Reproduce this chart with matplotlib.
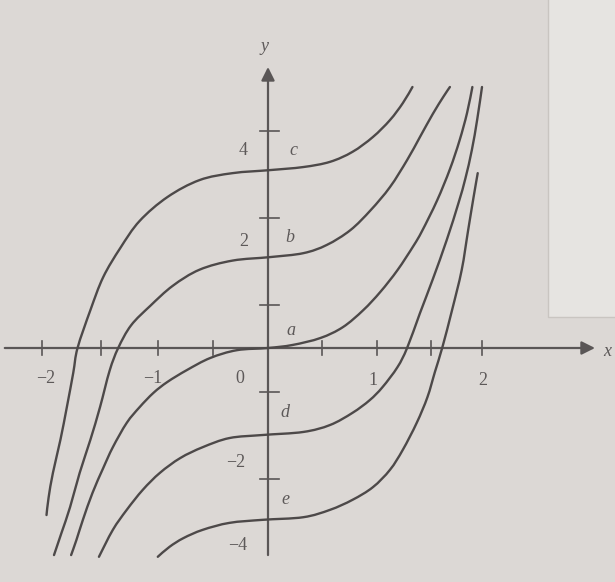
import matplotlib
matplotlib.use("Agg")
import matplotlib.pyplot as plt
from matplotlib.patches import Rectangle, PathPatch
from matplotlib.path import Path

# ---- data (x unit ~107 px, y unit ~43.5 px) ----
c_x = [-2.07, -2.05, -2.01, -1.94, -1.88, -1.82, -1.78, -1.66, -1.54, -1.38, -1.20, -0.94, -0.64, -0.33, 0.02, 0.33, 0.58, 0.79, 0.98, 1.14, 1.26, 1.35]
c_y = [-3.84, -3.43, -2.87, -2.11, -1.36, -0.57, 0.00, 0.87, 1.63, 2.30, 2.92, 3.47, 3.86, 4.02, 4.09, 4.16, 4.28, 4.51, 4.85, 5.24, 5.63, 6.00]

b_x = [-2.00, -1.93, -1.85, -1.76, -1.66, -1.57, -1.48, -1.40, -1.28, -1.10, -0.89, -0.64, -0.33, 0.02, 0.33, 0.55, 0.77, 0.96, 1.14, 1.30, 1.42, 1.54, 1.64, 1.70]
b_y = [-4.76, -4.25, -3.66, -2.87, -2.11, -1.36, -0.52, 0.00, 0.52, 0.97, 1.43, 1.80, 2.01, 2.09, 2.18, 2.37, 2.71, 3.17, 3.70, 4.32, 4.85, 5.38, 5.78, 6.00]

a_x = [-1.84, -1.79, -1.73, -1.64, -1.54, -1.45, -1.32, -1.20, -1.07, -0.94, -0.76, -0.54, -0.29, 0.00, 0.23, 0.49, 0.70, 0.89, 1.05, 1.21, 1.36, 1.44, 1.58, 1.70, 1.79, 1.86, 1.91]
a_y = [-4.76, -4.41, -3.95, -3.33, -2.76, -2.28, -1.72, -1.36, -1.03, -0.78, -0.51, -0.23, -0.05, 0.00, 0.07, 0.23, 0.48, 0.87, 1.29, 1.79, 2.35, 2.69, 3.39, 4.11, 4.77, 5.40, 6.00]

d_x = [-1.58, -1.45, -1.32, -1.17, -1.01, -0.82, -0.61, -0.36, -0.05, 0.33, 0.58, 0.79, 0.95, 1.07, 1.21, 1.30, 1.42, 1.54, 1.67, 1.78, 1.845, 1.905, 1.955, 2.00]
d_y = [-4.80, -4.18, -3.72, -3.26, -2.87, -2.53, -2.28, -2.07, -2.00, -1.93, -1.77, -1.49, -1.20, -0.90, -0.44, 0.00, 0.80, 1.58, 2.48, 3.33, 3.90, 4.55, 5.25, 6.00]

e_x = [-1.03, -0.92, -0.79, -0.61, -0.36, -0.05, 0.33, 0.58, 0.79, 0.98, 1.14, 1.26, 1.39, 1.49, 1.56, 1.63, 1.72, 1.81, 1.87, 1.92, 1.96]
e_y = [-4.80, -4.57, -4.37, -4.18, -4.02, -3.95, -3.89, -3.72, -3.49, -3.20, -2.80, -2.34, -1.72, -1.13, -0.55, 0.02, 0.87, 1.79, 2.70, 3.45, 4.02]

curve_names = ["c", "b", "a", "d", "e"]
curve_label_pos = [(0.24, 4.55), (0.20, 2.55), (0.21, 0.41), (0.16, -1.49), (0.16, -3.49)]

x_tick_pos = [-2.11, -1.56, -1.03, -0.51, 0.50, 1.02, 1.52, 2.00]
x_tick_labels = ["\u22122", "\u22121", "0", "1", "2"]
x_label_pos = [(-2.08, -0.69), (-1.08, -0.69), (-0.26, -0.69), (0.98, -0.74), (2.01, -0.74)]

y_tick_pos = [5.0, 3.0, 1.0, -1.0, -3.0]
y_tick_labels = ["4", "2", "\u22122", "\u22124"]
y_label_pos = [(-0.23, 4.55), (-0.23, 2.44), (-0.30, -2.64), (-0.28, -4.53)]

# ---- figure ----
W, H = 615, 582
fig = plt.figure(figsize=(W / 100, H / 100), dpi=100)
fig.patch.set_facecolor("#dcd8d5")
ax = fig.add_axes([0, 0, 1, 1])
ax.set_facecolor("#dcd8d5")
ax.set_xlim(-268 / 107, (W - 268) / 107)
ax.set_ylim((348 - H) / 43.5, 348 / 43.5)
ax.axis("off")

# lighter paper box at right top
ax.add_patch(Rectangle(((548 - 268) / 107, (348 - 317) / 43.5), 2.0, 8.0,
                       facecolor="#e6e4e1", edgecolor="#c9c5c1", lw=1.0, zorder=0))

ink = "#4d4949"
axis_ink = "#5a5656"

# axes with arrows
ax.annotate("", xy=(3.056, 0), xytext=(-2.46, 0),
            arrowprops=dict(arrowstyle="-|>", mutation_scale=20, lw=1.6,
                            color=axis_ink, shrinkA=0, shrinkB=0), zorder=3)
ax.annotate("", xy=(0, 6.46), xytext=(0, -4.76),
            arrowprops=dict(arrowstyle="-|>", mutation_scale=20, lw=1.6,
                            color=axis_ink, shrinkA=0, shrinkB=0), zorder=3)

# tick marks
for t in x_tick_pos:
    ax.plot([t, t], [-0.17, 0.17], color=axis_ink, lw=1.2, zorder=3)
for t in y_tick_pos:
    ax.plot([-0.075, 0.10], [t, t], color=axis_ink, lw=1.2, zorder=3)

font = dict(family=["Liberation Serif", "DejaVu Serif"], color="#5d5959", fontsize=13)
for lab, (xx, yy) in zip(x_tick_labels, x_label_pos):
    ax.text(xx, yy, lab, ha="center", va="center", **font)
for lab, (xx, yy) in zip(y_tick_labels, y_label_pos):
    ax.text(xx, yy, lab, ha="center", va="center", **font)

ax.text(-0.03, 6.92, "y", ha="center", va="center", style="italic", **font)
ax.text(3.17, -0.09, "x", ha="center", va="center", style="italic", **font)


def smooth_path(xs, ys):
    """Bezier path passing through the read points (Catmull-Rom tangents)."""
    pts = list(zip(xs, ys))
    n = len(pts)
    verts = [pts[0]]
    codes = [Path.MOVETO]
    for i in range(n - 1):
        p0 = pts[i - 1] if i > 0 else pts[i]
        p1 = pts[i]
        p2 = pts[i + 1]
        p3 = pts[i + 2] if i + 2 < n else pts[i + 1]
        c1 = (p1[0] + (p2[0] - p0[0]) / 6, p1[1] + (p2[1] - p0[1]) / 6)
        c2 = (p2[0] - (p3[0] - p1[0]) / 6, p2[1] - (p3[1] - p1[1]) / 6)
        verts += [c1, c2, p2]
        codes += [Path.CURVE4] * 3
    return Path(verts, codes)


for xs, ys in [(c_x, c_y), (b_x, b_y), (a_x, a_y), (d_x, d_y), (e_x, e_y)]:
    ax.add_patch(PathPatch(smooth_path(xs, ys), facecolor="none", edgecolor=ink,
                           lw=1.7, capstyle="round", zorder=4))

for name, (xx, yy) in zip(curve_names, curve_label_pos):
    ax.text(xx, yy, name, ha="center", va="center", style="italic", **font)

fig.savefig("out.png", dpi=100, facecolor=fig.get_facecolor())
